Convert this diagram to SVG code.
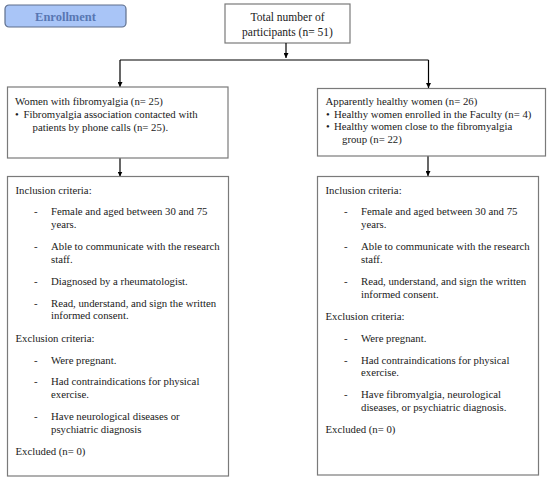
<svg xmlns="http://www.w3.org/2000/svg" width="550" height="482" viewBox="0 0 550 482">
<defs>
<style>
text{font-family:"Liberation Serif","Times New Roman",serif;font-size:10.75px;fill:#1a1a1a}
.box{fill:#fff;stroke:#7a7a7a;stroke-width:1.2}
.line{fill:none;stroke:#000;stroke-width:1.2}
.mid{text-anchor:middle}
.big{font-size:11.5px}
.enr{font-weight:bold;font-size:12.5px;fill:#5877b3}
</style>
<marker id="ah" viewBox="0 0 10 10" refX="10" refY="5" markerWidth="5" markerHeight="5" orient="auto" markerUnits="userSpaceOnUse">
<path d="M0,0 L10,5 L0,10 z" fill="#000"/>
</marker>
</defs>
<rect width="550" height="482" fill="#fff"/>
<g id="enrollment">
<rect x="5" y="5" width="121" height="22" rx="4" ry="4" fill="#a9c5f7" stroke="#5f6f8c" stroke-width="1.2"/>
<text class="mid enr" x="65.5" y="20.5">Enrollment</text>
</g>
<g id="total">
<rect class="box" x="225" y="4" width="125" height="39"/>
<text class="mid big" x="287.5" y="21">Total number of</text>
<text class="mid big" x="287.5" y="35.5">participants (n= 51)</text>
</g>
<g id="connectors">
<line class="line" x1="286" y1="43" x2="286" y2="58" marker-end="url(#ah)"/>
<line class="line" x1="120" y1="60" x2="428.5" y2="60"/>
<line class="line" x1="120" y1="60" x2="120" y2="87" marker-end="url(#ah)"/>
<line class="line" x1="428.5" y1="60" x2="428.5" y2="88" marker-end="url(#ah)"/>
<line class="line" x1="120" y1="158" x2="120" y2="176.5" marker-end="url(#ah)"/>
<line class="line" x1="428" y1="156" x2="428" y2="176" marker-end="url(#ah)"/>
</g>
<g id="fibro">
<rect class="box" x="7.5" y="87" width="220.5" height="71"/>
<text x="15" y="105">Women with fibromyalgia (n= 25)</text>
<text x="15" y="118">•</text>
<text x="23.5" y="118">Fibromyalgia association contacted with</text>
<text x="32.5" y="131">patients by phone calls (n= 25).</text>
</g>
<g id="healthy">
<rect class="box" x="317.5" y="88.5" width="228" height="67.5"/>
<text x="325.5" y="105">Apparently healthy women (n= 26)</text>
<text x="326" y="117.5">•</text>
<text x="334" y="117.5">Healthy women enrolled in the Faculty (n= 4)</text>
<text x="326" y="130">•</text>
<text x="334" y="130">Healthy women close to the fibromyalgia</text>
<text x="342" y="142.5">group (n= 22)</text>
</g>
<g id="fibro-criteria">
<rect class="box" x="7.5" y="176.5" width="221" height="299.5"/>
<text x="15.5" y="194">Inclusion criteria:</text>
<text x="34" y="215">-</text><text x="51" y="215">Female and aged between 30 and 75</text>
<text x="51" y="228">years.</text>
<text x="34" y="250">-</text><text x="51" y="250">Able to communicate with the research</text>
<text x="51" y="262.5">staff.</text>
<text x="34" y="285">-</text><text x="51" y="285">Diagnosed by a rheumatologist.</text>
<text x="34" y="306.5">-</text><text x="51" y="306.5">Read, understand, and sign the written</text>
<text x="51" y="319">informed consent.</text>
<text x="15.5" y="341.5">Exclusion criteria:</text>
<text x="34" y="364">-</text><text x="51" y="364">Were pregnant.</text>
<text x="34" y="385">-</text><text x="51" y="385">Had contraindications for physical</text>
<text x="51" y="397.5">exercise.</text>
<text x="34" y="420">-</text><text x="51" y="420">Have neurological diseases or</text>
<text x="51" y="432.5">psychiatric diagnosis</text>
<text x="15.5" y="455">Excluded (n= 0)</text>
</g>
<g id="healthy-criteria">
<rect class="box" x="317.5" y="176.5" width="221" height="298.5"/>
<text x="325.5" y="194">Inclusion criteria:</text>
<text x="344" y="215">-</text><text x="361" y="215">Female and aged between 30 and 75</text>
<text x="361" y="228">years.</text>
<text x="344" y="250">-</text><text x="361" y="250">Able to communicate with the research</text>
<text x="361" y="262.5">staff.</text>
<text x="344" y="285">-</text><text x="361" y="285">Read, understand, and sign the written</text>
<text x="361" y="297.5">informed consent.</text>
<text x="325.5" y="319.5">Exclusion criteria:</text>
<text x="344" y="341.5">-</text><text x="361" y="341.5">Were pregnant.</text>
<text x="344" y="363.5">-</text><text x="361" y="363.5">Had contraindications for physical</text>
<text x="361" y="376">exercise.</text>
<text x="344" y="398">-</text><text x="361" y="398">Have fibromyalgia, neurological</text>
<text x="361" y="410.5">diseases, or psychiatric diagnosis.</text>
<text x="325.5" y="433">Excluded (n= 0)</text>
</g>
</svg>
